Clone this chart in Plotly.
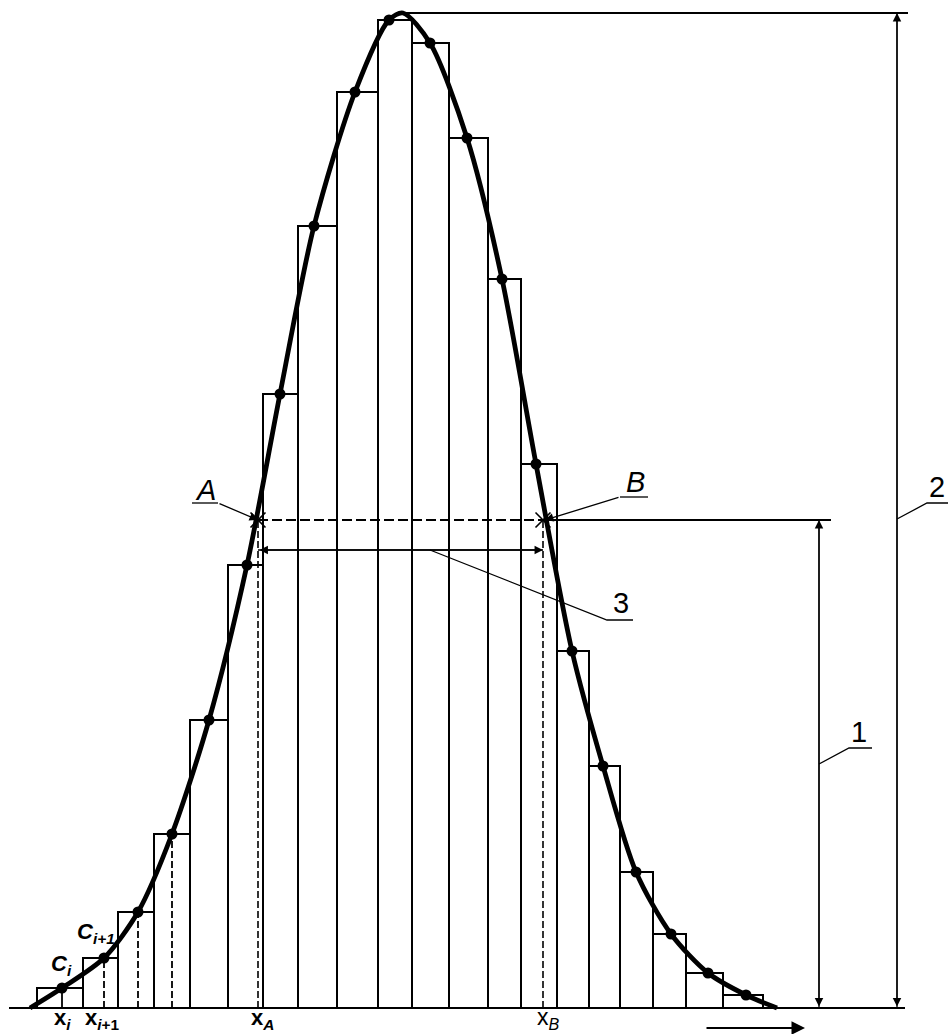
import plotly.graph_objects as go

# ---- data (x in drawing units, y = height above baseline) ----
bin_edges = [37, 83, 118, 154, 190, 228, 263, 298, 337, 378, 412, 449, 488, 521, 557, 589, 620, 653, 686, 723, 763]
bar_heights = [20, 50, 96, 174, 288, 443, 614, 782, 916, 988, 965, 870, 729, 544, 357, 242, 136, 74, 35, 13]

point_x = [62, 104, 138, 172, 209, 247, 280, 314, 355, 389, 430, 467, 502, 536, 572, 603, 636, 671, 708, 746]
point_y = [20, 50, 96, 174, 288, 443, 614, 782, 916, 988, 965, 870, 729, 544, 357, 242, 136, 74, 35, 13]

curve_start = (30, 0)
curve_peak = (403, 995)
curve_end = (777, 0)

x_A = 258
x_B = 543
half_height = 488
peak_height = 995

FONT = "Liberation Sans, Arial, sans-serif"

centers = [(a + b) / 2 for a, b in zip(bin_edges[:-1], bin_edges[1:])]
widths = [b - a for a, b in zip(bin_edges[:-1], bin_edges[1:])]

curve_x = [curve_start[0]] + point_x[:10] + [curve_peak[0]] + point_x[10:] + [curve_end[0]]
curve_y = [curve_start[1]] + point_y[:10] + [curve_peak[1]] + point_y[10:] + [curve_end[1]]

fig = go.Figure()

fig.add_trace(go.Bar(
    x=centers, y=bar_heights, width=widths,
    marker=dict(color="white", line=dict(color="black", width=2)),
    hoverinfo="skip"))

def seg(xs, ys, width=1.2, dash="solid"):
    fig.add_trace(go.Scatter(x=xs, y=ys, mode="lines",
                             line=dict(color="black", width=width, dash=dash),
                             hoverinfo="skip"))

# drop lines from the first points
for i in range(4):
    seg([point_x[i], point_x[i]], [0, point_y[i]], width=1.8,
        dash="solid" if i == 0 else "7px,3px")

# extension lines at x_A and x_B
seg([x_A, x_A], [0, half_height], width=1.6, dash="7px,3px")
seg([x_B, x_B], [0, half_height], width=1.6, dash="7px,3px")
# half height line
seg([x_A, x_B], [half_height, half_height], width=2.2, dash="10px,4px")
seg([x_B, 831], [half_height, half_height], width=1.8)
# top line
seg([curve_peak[0], 908], [peak_height, peak_height], width=1.8)
# baseline
seg([9, 905], [0, 0], width=2.2)
# dimension lines
seg([819, 819], [0, half_height], width=1.3)
seg([897, 897], [0, peak_height], width=1.3)
seg([x_A, x_B], [458, 458], width=1.3)

# leaders
seg([430, 607, 633], [458, 388, 388], width=1.3)        # 3
seg([819, 849, 872], [244, 260, 260], width=1.3)        # 1
seg([897, 927, 948], [489, 505, 505], width=1.3)        # 2
seg([192, 218], [505, 505], width=1.3)                  # A underline
seg([648, 620], [511, 511], width=1.3)                  # B underline

# curve
fig.add_trace(go.Scatter(x=curve_x, y=curve_y, mode="lines", line_shape="spline",
                         line=dict(color="black", width=4.8, smoothing=0.8), hoverinfo="skip"))
fig.add_trace(go.Scatter(x=point_x, y=point_y, mode="markers",
                         marker=dict(color="black", size=11), hoverinfo="skip"))
# A and B crosses
fig.add_trace(go.Scatter(x=[x_A, x_B], y=[half_height, half_height], mode="markers",
                         marker=dict(symbol="x-thin-open", size=15, color="black",
                                     line=dict(color="black", width=1.6)),
                         hoverinfo="skip"))

ann = []
def arrow(x, y, ax, ay, side="end", head=2, size=1.3, width=1.3):
    ann.append(dict(x=x, y=y, ax=ax, ay=ay, xref="x", yref="y", axref="x", ayref="y",
                    text="", showarrow=True, arrowhead=head, startarrowhead=head,
                    arrowsize=size, startarrowsize=size, arrowwidth=width,
                    arrowcolor="black", arrowside=side, standoff=0, startstandoff=0))

arrow(819, half_height, 819, 0, side="end+start")
arrow(897, peak_height, 897, 0, side="end+start")
arrow(x_B, 458, x_A, 458, side="end+start")
arrow(x_A, half_height, 218, 505)
arrow(x_B + 2, half_height, 620, 511)
arrow(805, -20, 705, -20, head=2, size=1.5, width=1.8)

def label(x, y, text, size=26, xanchor="center"):
    ann.append(dict(x=x, y=y, xref="x", yref="y", text=text, showarrow=False,
                    font=dict(family=FONT, size=size, color="black"),
                    xanchor=xanchor, yanchor="middle"))

label(205, 518, "<i>A</i>", 29)
label(635, 526, "<i>B</i>", 29)
label(859, 276, "1", 29)
label(937, 521, "2", 29)
label(621, 405, "3", 29)
label(62, -11, "<b>x<sub><i>i</i></sub></b>", 22)
label(102, -11, "<b>x<sub><i>i</i>+1</sub></b>", 22)
label(262, -11, "<b>x<sub><i>A</i></sub></b>", 22)
label(548, -10, "x<sub><i>B</i></sub>", 23)
label(61, 43, "<b><i>C<sub>i</sub></i></b>", 22)
label(96, 75, "<b><i>C<sub>i+1</sub></i></b>", 22)

fig.update_layout(
    width=948, height=1034, margin=dict(l=0, r=0, t=0, b=0),
    paper_bgcolor="white", plot_bgcolor="white", showlegend=False,
    bargap=0, annotations=ann,
    xaxis=dict(range=[0, 948], visible=False, fixedrange=True),
    yaxis=dict(range=[-26, 1008], visible=False, fixedrange=True),
)

fig.write_html("out.html", config={"displayModeBar": False},
               post_script="document.body.style.margin='0px';")
